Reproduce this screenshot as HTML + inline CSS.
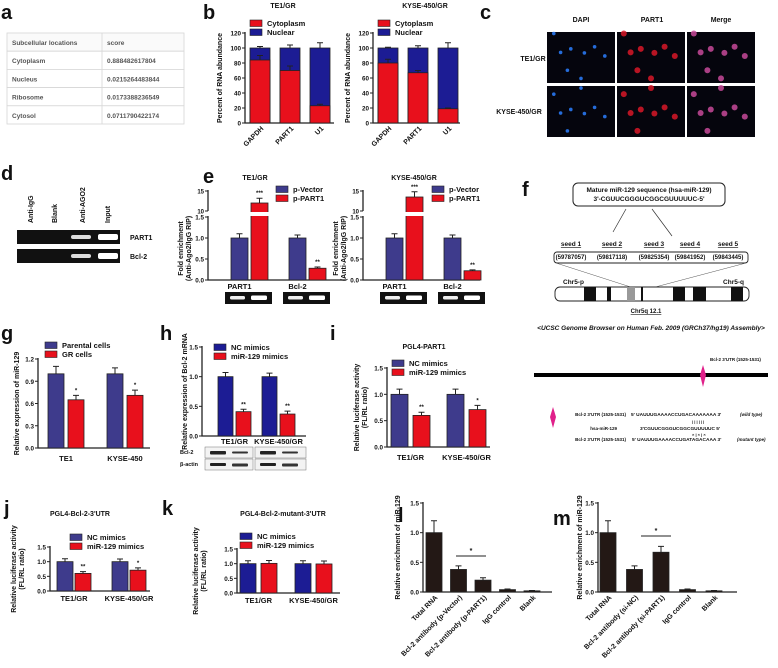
<!DOCTYPE html>
<html><head><meta charset="utf-8"><style>
html,body{margin:0;padding:0;background:#fff;}
svg{display:block;font-family:"Liberation Sans",Arial,sans-serif;}
text{font-weight:bold;}
</style></head><body>
<svg id="fig" width="778" height="668" viewBox="0 0 778 668" xmlns="http://www.w3.org/2000/svg"></svg>
<script>
// ---------- DATA ----------
const bCats=["GAPDH","PART1","U1"];
const bTE1Cyto=[84,70,23];
const bTE1CytoErr=[6,6,2];
const bTE1TotErr=[2,4,7];
const bKyseCyto=[80,67,19];
const bKyseCytoErr=[5,3,1];
const bKyseTotErr=[1,3,7];
const bTicks=[0,20,40,60,80,100,120];

const eCats=["PART1","Bcl-2"];
const eTE1Vec=[1,1];
const eTE1VecErr=[0.1,0.07];
const eTE1Part=[12,0.28];
const eTE1PartErr=[1.2,0.03];
const eTE1Stars=["***","**"];
const eKyseVec=[1,1];
const eKyseVecErr=[0.1,0.07];
const eKysePart=[13.5,0.22];
const eKysePartErr=[1.3,0.02];
const eKyseStars=["***","**"];
const eTicksLow=[0,0.5,1.0,1.5];
const eTicksHigh=[10,15];

const gCats=["TE1","KYSE-450"];
const gParental=[1.0,1.0];
const gParentalErr=[0.1,0.08];
const gGR=[0.65,0.71];
const gGRErr=[0.06,0.07];
const gStars=["*","*"];
const gTicks=[0,0.3,0.6,0.9,1.2];

const hCats=["TE1/GR","KYSE-450/GR"];
const hNC=[1.0,1.0];
const hNCErr=[0.07,0.06];
const hMiR=[0.41,0.37];
const hMiRErr=[0.04,0.05];
const hStars=["**","**"];

const iCats=["TE1/GR","KYSE-450/GR"];
const iNC=[1.0,1.0];
const iNCErr=[0.1,0.1];
const iMiR=[0.6,0.71];
const iMiRErr=[0.06,0.08];
const iStars=["**","*"];

const jCats=["TE1/GR","KYSE-450/GR"];
const jNC=[1.0,1.0];
const jNCErr=[0.1,0.09];
const jMiR=[0.6,0.71];
const jMiRErr=[0.06,0.08];
const jStars=["**","*"];

const kCats=["TE1/GR","KYSE-450/GR"];
const kNC=[1.0,1.0];
const kNCErr=[0.1,0.1];
const kMiR=[1.01,0.99];
const kMiRErr=[0.1,0.1];

const lCats=["Total RNA","Bcl-2 antibody (p-Vector)","Bcl-2 antibody (p-PART1)","IgG control","Blank"];
const lVals=[1.0,0.38,0.2,0.04,0.02];
const lErr=[0.2,0.06,0.04,0.01,0.005];
const mCats=["Total RNA","Bcl-2 antibody (si-NC)","Bcl-2 antibody (si-PART1)","IgG control","Blank"];
const mVals=[1.0,0.38,0.67,0.04,0.02];
const mErr=[0.2,0.06,0.1,0.01,0.005];
const stdTicks=[0,0.5,1.0,1.5];

// ---------- HELPERS ----------
const svg=document.getElementById('fig');
const NS="http://www.w3.org/2000/svg";
function mk(tag,attrs,parent){const e=document.createElementNS(NS,tag);for(const k in attrs)e.setAttribute(k,attrs[k]);(parent||svg).appendChild(e);return e;}
function txt(x,y,s,size,anchor,parent,extra){const t=mk('text',Object.assign({x:x,y:y,'font-size':size,'text-anchor':anchor||'start',fill:'#111'},extra||{}),parent);t.textContent=s;return t;}
const RED="#e8101c",PURP="#3e3b8c",NAVY="#1c1c94",DARK="#231815";
function fmt(v,d){return v.toFixed(d);}

function barChart(o){
  const g=mk('g',{});
  
  
  const sc=v=>o.y0-(v/o.ymax)*(o.y0-o.yTop);
  const ax=mk('path',{d:`M${o.x0} ${o.yTop-1}V${o.y0}H${o.xEnd}`,stroke:'#222','stroke-width':1.3,fill:'none'},g);
  
  
  o.ticks.forEach(t=>{
    mk('line',{x1:o.x0-3,x2:o.x0,y1:sc(t),y2:sc(t),stroke:'#222','stroke-width':1},g);
    const tl=txt(o.x0-4,sc(t)+2.5,fmt(t,o.dec),6.3,'end',g);
    
    
  });
  o.cats.forEach((c,i)=>{
    const gx=o.firstX+i*o.groupStep;
    o.series.forEach((s,k)=>{
      const bx=gx+k*(o.barW+o.innerGap);
      const v=s.vals[i],yt=sc(v);
      const r=mk('rect',{x:bx,y:yt,width:o.barW,height:o.y0-yt,fill:s.color,stroke:'#222','stroke-width':0.8},g);
      
      
      const ye=sc(v+s.errs[i]);
      mk('path',{d:`M${bx+o.barW/2} ${yt}V${ye}M${bx+o.barW/2-3} ${ye}H${bx+o.barW/2+3}`,stroke:'#222','stroke-width':1,fill:'none'},g);
      if(s.stars&&s.stars[i]){txt(bx+o.barW/2,ye-3,s.stars[i],6,'middle',g);}
    });
    if(o.rot){
      const cx=gx+o.barW/2;
      const t=txt(cx+4,o.y0+6,c,7,'end',g,{transform:`rotate(-45 ${cx+4} ${o.y0+6})`});
      
      
    } else {
      const n=o.series.length;
      const cx=gx+(n*o.barW+(n-1)*o.innerGap)/2;
      const t=txt(cx,o.labelY,c,7.5,'middle',g);
      
      
    }
  });
  if(o.ytitle){
    const yt=mk('text',{x:0,y:0,'font-size':7,'text-anchor':'middle',fill:'#111',transform:`translate(${o.ytx} ${(o.y0+o.yTop)/2}) rotate(-90)`},g);
    o.ytitle.forEach((line,i)=>{const ts=mk('tspan',{x:0,dy:i?8:0},yt);ts.textContent=line;});
    
    
  }
  if(o.legend){
    o.legend.forEach((l,i)=>{
      const lg=mk('g',{},g);
      
      
      mk('rect',{x:o.legX,y:o.legY+i*9-6,width:12,height:6.5,fill:l[1],stroke:'#222','stroke-width':0.6},lg);
      txt(o.legX+17,o.legY+i*9,l[0],7.5,'start',lg);
    });
  }
  if(o.title){const t=txt(o.title[0],o.title[1],o.title[2],7,'middle',g);}
  return {g:g,sc:sc};
}
function letter(x,y,s){const t=txt(x,y,s,20,'start',svg,{'font-weight':'bold'});}

// ---------- PANEL A ----------
letter(1,19,'a');
(function(){
  const g=mk('g',{});
  
  
  const rows=[["Subcellular locations","score"],["Cytoplasm","0.888482617804"],["Nucleus","0.0215264483844"],["Ribosome","0.0173388236549"],["Cytosol","0.0711790422174"]];
  rows.forEach((r,i)=>{
    const y=33+i*18.2;
    mk('rect',{x:7,y:y,width:177,height:18.2,fill:i?'#fff':'#fafafa',stroke:'#d6d6d6','stroke-width':0.8},g);
    mk('line',{x1:102,x2:102,y1:y,y2:y+18.2,stroke:'#d6d6d6','stroke-width':0.8},g);
    txt(12,y+12,r[0],6.5,'start',g,{fill:'#555','font-weight':'normal'});
    txt(107,y+12,r[1],6.5,'start',g,{fill:'#555','font-weight':'normal'});
  });
})();

// ---------- PANEL B ----------
letter(203,19,'b');
function stacked(name,x0,cyto,cErr,tErr,title,tx,xEnd){
  const o=barChart({name:name,x0:x0,y0:123,yTop:33,ymax:120,ticks:bTicks,dec:0,cats:bCats,
    series:[{vals:cyto.map(()=>100),errs:tErr,color:NAVY}],firstX:x0+5,barW:20,innerGap:0,groupStep:30,xEnd:xEnd,rot:true,
    ytitle:["Percent of RNA abundance"],ytx:x0-23,legend:[["Cytoplasm",RED],["Nuclear",NAVY]],legX:x0+5,legY:26,title:[tx,8,title]});
  cyto.forEach((v,i)=>{
    const bx=x0+5+i*30,yt=o.sc(v);
    const r=mk('rect',{x:bx,y:yt,width:20,height:123-yt,fill:RED,stroke:'#222','stroke-width':0.8},o.g);
    
    
    const ye=o.sc(v+cErr[i]);
    mk('path',{d:`M${bx+10} ${yt}V${ye}M${bx+7} ${ye}H${bx+13}`,stroke:'#222','stroke-width':1,fill:'none'},o.g);
  });
}
stacked('chart-b-te1',245,bTE1Cyto,bTE1CytoErr,bTE1TotErr,'TE1/GR',283,334);
stacked('chart-b-kyse',373,bKyseCyto,bKyseCytoErr,bKyseTotErr,'KYSE-450/GR',425,460);

// ---------- PANEL C ----------
letter(480,19,'c');
(function(){
  const g=mk('g',{});
  
  
  [["DAPI",581],["PART1",652],["Merge",721]].forEach(h=>txt(h[1],22,h[0],7,'middle',g));
  txt(533,61,"TE1/GR",7,'middle',g);txt(519,114,"KYSE-450/GR",7,'middle',g);
  const cols=[547,617,687],rowsY=[32,86];
  const dots=[[0.2,0.4],[0.35,0.3],[0.55,0.35],[0.7,0.2],[0.85,0.35],[0.3,0.6],[0.1,0.85],[0.5,0.7]];
  rowsY.forEach((ry,ri)=>cols.forEach((cx,ci)=>{
    mk('rect',{x:cx,y:ry,width:68,height:51,fill:'#05050d'},g);
    dots.forEach((d,k)=>{
      const px=cx+d[0]*68,py=ry+((d[1]+ri*0.13+k*0.03)%1)*51;
      const col=ci===0?'#2b7fff':ci===1?'#d81828':'#c84a9a';
      mk('circle',{cx:px,cy:py,r:ci===0?1.8:3,fill:col,opacity:0.85},g);
    });
  }));
})();

// ---------- PANEL D ----------
letter(1,180,'d');
(function(){
  const g=mk('g',{});
  
  
  [["Anti-IgG",33],["Blank",57],["Anti-AGO2",85],["Input",110]].forEach(l=>txt(l[1],223,l[0],7,'start',g,{transform:`rotate(-90 ${l[1]} 223)`}));
  [230,249].forEach((y,i)=>{
    mk('rect',{x:17,y:y,width:103,height:14,fill:'#111'},g);
    mk('rect',{x:71,y:y+5,width:20,height:4,fill:'#ddd',rx:2},g);
    mk('rect',{x:98,y:y+4,width:20,height:6,fill:'#fff',rx:2},g);
    txt(130,y+10,i?"Bcl-2":"PART1",7,'start',g);
  });
})();

// ---------- PANEL E ----------
letter(203,183,'e');
function panelE(name,x0,vec,vecErr,part,partErr,stars,title,tx,xEnd,legX){
  const o=barChart({name:name,x0:x0,y0:280,yTop:217,ymax:1.5,ticks:eTicksLow,dec:1,cats:eCats,
    series:[{vals:vec,errs:vecErr,color:PURP}],firstX:x0+23,barW:17,innerGap:3,groupStep:58,xEnd:xEnd,labelY:289,
    ytitle:["Fold enrichment","(Anti-Ago2/IgG RIP)"],ytx:x0-25,legend:[["p-Vector",PURP],["p-PART1",RED]],legX:legX,legY:192,title:[tx,180,title]});
  const hi=v=>211-(v-10)*4;
  mk('line',{x1:x0,x2:x0,y1:190,y2:211,stroke:'#222','stroke-width':1.3},o.g);
  eTicksHigh.forEach(t=>{mk('line',{x1:x0-3,x2:x0,y1:hi(t),y2:hi(t),stroke:'#222'},o.g);txt(x0-4,hi(t)+2.5,String(t),6,'end',o.g);});
  part.forEach((v,i)=>{
    const bx=x0+23+i*58+20;
    const yt=v>1.5?hi(v):o.sc(v);
    const r=mk('rect',{x:bx,y:yt,width:17,height:280-yt,fill:RED,stroke:'#222','stroke-width':0.8},o.g);
    
    
    const ye=v>1.5?hi(v+partErr[i]):o.sc(v+partErr[i]);
    mk('path',{d:`M${bx+8.5} ${yt}V${ye}M${bx+5.5} ${ye}H${bx+11.5}`,stroke:'#222','stroke-width':1,fill:'none'},o.g);
    txt(bx+8.5,ye-3,stars[i],6,'middle',o.g);
    if(v>1.5)mk('rect',{x:bx-1,y:212,width:19,height:4,fill:'#fff'},o.g);
    const gx=x0+17+i*58;
    mk('rect',{x:gx,y:292,width:47,height:12,fill:'#111'},o.g);
    mk('rect',{x:gx+5,y:296,width:15,height:3.5,fill:'#eee',rx:1.5},o.g);
    mk('rect',{x:gx+26,y:295.5,width:16,height:4.5,fill:'#fff',rx:1.5},o.g);
  });
}
panelE('chart-e-te1',208,eTE1Vec,eTE1VecErr,eTE1Part,eTE1PartErr,eTE1Stars,'TE1/GR',255,346,276);
panelE('chart-e-kyse',363,eKyseVec,eKyseVecErr,eKysePart,eKysePartErr,eKyseStars,'KYSE-450/GR',414,480,432);

// ---------- PANEL F ----------
(function(){
  const g=mk('g',{});
  
  
  txt(522,196,'f',20,'start',g);
  mk('rect',{x:573,y:183,width:152,height:23,rx:5,fill:'#fff',stroke:'#222','stroke-width':1},g);
  txt(649,192,'Mature miR-129 sequence (hsa-miR-129)',6.5,'middle',g);
  txt(649,201,"3'-CGUUCGGGUCGGCGUUUUUC-5'",6.5,'middle',g);
  mk('path',{d:'M626 209L613 232M652 209L672 236',stroke:'#333','stroke-width':0.7,fill:'none'},g);
  const seeds=[["seed 1","(59787057)",571],["seed 2","(59817118)",612],["seed 3","(59825354)",654],["seed 4","(59841952)",690],["seed 5","(59843445)",728]];
  seeds.forEach(s=>{txt(s[2],246,s[0],6.5,'middle',g,{'text-decoration':'underline'});txt(s[2],259,s[1],6,'middle',g);});
  mk('rect',{x:554,y:252,width:194,height:11,rx:3,fill:'none',stroke:'#222','stroke-width':0.9},g);
  mk('path',{d:'M556 263L640 290M746 263L644 290',stroke:'#555','stroke-width':0.5,fill:'none'},g);
  mk('rect',{x:555,y:287,width:194,height:14,rx:5,fill:'#fff',stroke:'#222','stroke-width':0.9},g);
  [[584,12],[607,4],[673,12],[693,13],[731,12]].forEach(b=>mk('rect',{x:b[0],y:287,width:b[1],height:14,fill:'#111'},g));
  mk('rect',{x:627,y:287,width:8,height:14,fill:'#999'},g);
  mk('rect',{x:641,y:287,width:2,height:14,fill:'#111'},g);
  txt(563,284,'Chr5-p',6.5,'start',g);txt(744,284,'Chr5-q',6.5,'end',g);
  txt(646,313,'Chr5q 12.1',6,'middle',g,{'text-decoration':'underline'});
  txt(651,330,'<UCSC Genome Browser on Human Feb. 2009 (GRCh37/hg19) Assembly>',6.5,'middle',g,{'font-style':'italic'});
})();

// ---------- PANEL G ----------
letter(1,340,'g');
barChart({name:'chart-g',x0:38,y0:448,yTop:359,ymax:1.2,ticks:gTicks,dec:1,cats:gCats,
  series:[{vals:gParental,errs:gParentalErr,color:PURP},{vals:gGR,errs:gGRErr,color:RED,stars:gStars}],
  firstX:48,barW:16,innerGap:4,groupStep:59,xEnd:150,labelY:461,ytitle:["Relative expression of miR-129"],ytx:19,
  legend:[["Parental cells",PURP],["GR cells",RED]],legX:45,legY:348});

// ---------- PANEL H ----------
letter(160,340,'h');
barChart({name:'chart-h',x0:202,y0:436,yTop:347,ymax:1.5,ticks:stdTicks,dec:1,cats:hCats,
  series:[{vals:hNC,errs:hNCErr,color:NAVY},{vals:hMiR,errs:hMiRErr,color:RED,stars:hStars}],
  firstX:218,barW:15,innerGap:3,groupStep:44,xEnd:306,labelY:444,ytitle:["Relative expression of Bcl-2 mRNA"],ytx:187,
  legend:[["NC mimics",NAVY],["miR-129 mimics",RED]],legX:214,legY:350});
(function(){
  const g=mk('g',{});
  
  
  [[447,"Bcl-2"],[459,"β-actin"]].forEach((r,i)=>{
    txt(180,r[0]+7,r[1],5.5,'start',g);
    [[205,48],[255,51]].forEach(p=>{
      mk('rect',{x:p[0],y:r[0],width:p[1],height:11,fill:'#f3f3f3',stroke:'#777','stroke-width':0.5},g);
      mk('rect',{x:p[0]+5,y:r[0]+4,width:16,height:i?3:3.5,fill:'#222',rx:1},g);
      mk('rect',{x:p[0]+27,y:r[0]+4.5,width:16,height:i?3:2,fill:'#333',rx:1},g);
    });
  });
})();

// ---------- PANEL I ----------
letter(330,340,'i');
barChart({name:'chart-i',x0:387,y0:447,yTop:368,ymax:1.5,ticks:stdTicks,dec:1,cats:iCats,
  series:[{vals:iNC,errs:iNCErr,color:PURP},{vals:iMiR,errs:iMiRErr,color:RED,stars:iStars}],
  firstX:391,barW:17,innerGap:5,groupStep:56,xEnd:490,labelY:460,ytitle:["Relative luciferase activity","(FL/RL ratio)"],ytx:359,
  legend:[["NC mimics",PURP],["miR-129 mimics",RED]],legX:392,legY:366,title:[424,349,'PGL4-PART1']});

// ---------- BINDING SITE ----------
(function(){
  const g=mk('g',{});
  
  
  mk('rect',{x:534,y:373,width:234,height:4,fill:'#000'},g);
  mk('path',{d:'M703 365L706 375L703 387L700 375Z',fill:'#e0208a'},g);
  txt(710,361,"Bcl-2 3'UTR (1525-1531)",4.5,'start',g);
  mk('path',{d:'M553 407L556 417L553 428L550 417Z',fill:'#e0208a'},g);
  txt(626,416,"Bcl-2 3'UTR (1525-1531)",4.5,'end',g);
  txt(617,430,"hsa-miR-129",4.5,'end',g);
  txt(626,441,"Bcl-2 3'UTR (1525-1531)",4.5,'end',g);
  txt(631,416,"5' UAUUUGAAAACCUGACAAAAAAA 3'",4.8,'start',g);
  txt(740,416,"(wild type)",4.5,'start',g,{'font-style':'italic'});
  txt(640,430,"3'CGUUCGGGUCGGCGUUUUUC 5'",4.8,'start',g);
  txt(692,423,"| | | | | |",4,'start',g);
  txt(692,436,"× | × | ×",4,'start',g);
  txt(632,441,"5' UAUUUGAAAACCUGATAGACAAA 3'",4.8,'start',g);
  txt(737,441,"(mutant type)",4.5,'start',g,{'font-style':'italic'});
})();

// ---------- PANEL J ----------
letter(4,515,'j');
barChart({name:'chart-j',x0:50,y0:591,yTop:547,ymax:1.5,ticks:stdTicks,dec:1,cats:jCats,
  series:[{vals:jNC,errs:jNCErr,color:PURP},{vals:jMiR,errs:jMiRErr,color:RED,stars:jStars}],
  firstX:57,barW:16,innerGap:2,groupStep:55,xEnd:150,labelY:601,ytitle:["Relative luciferase activity","(FL/RL ratio)"],ytx:16,
  legend:[["NC mimics",PURP],["miR-129 mimics",RED]],legX:70,legY:540,title:[80,516,"PGL4-Bcl-2-3'UTR"]});

// ---------- PANEL K ----------
letter(162,515,'k');
barChart({name:'chart-k',x0:237,y0:593,yTop:549,ymax:1.5,ticks:stdTicks,dec:1,cats:kCats,
  series:[{vals:kNC,errs:kNCErr,color:NAVY},{vals:kMiR,errs:kMiRErr,color:RED}],
  firstX:240,barW:16,innerGap:5,groupStep:55,xEnd:340,labelY:603,ytitle:["Relative luciferase activity","(FL/RL ratio)"],ytx:198,
  legend:[["NC mimics",NAVY],["miR-129 mimics",RED]],legX:240,legY:539,title:[283,516,"PGL4-Bcl-2-mutant-3'UTR"]});

// ---------- PANEL L / M ----------
letter(398,522,'l');
const lc=barChart({name:'chart-l',x0:423,y0:592,yTop:503,ymax:1.5,ticks:stdTicks,dec:1,cats:lCats,
  series:[{vals:lVals,errs:lErr,color:DARK}],firstX:426,barW:16,innerGap:0,groupStep:24.5,xEnd:552,rot:true,
  ytitle:["Relative enrichment of miR-129"],ytx:400});
mk('line',{x1:456,x2:486,y1:556,y2:556,stroke:'#222','stroke-width':1},lc.g);
txt(471,553,'*',7,'middle',lc.g);
letter(553,525,'m');
const mc=barChart({name:'chart-m',x0:598,y0:592,yTop:503,ymax:1.5,ticks:stdTicks,dec:1,cats:mCats,
  series:[{vals:mVals,errs:mErr,color:DARK}],firstX:600,barW:16,innerGap:0,groupStep:26.5,xEnd:737,rot:true,
  ytitle:["Relative enrichment of miR-129"],ytx:582});
mk('line',{x1:641,x2:671,y1:536,y2:536,stroke:'#222','stroke-width':1},mc.g);
txt(656,533,'*',7,'middle',mc.g);
</script>
</body></html>
